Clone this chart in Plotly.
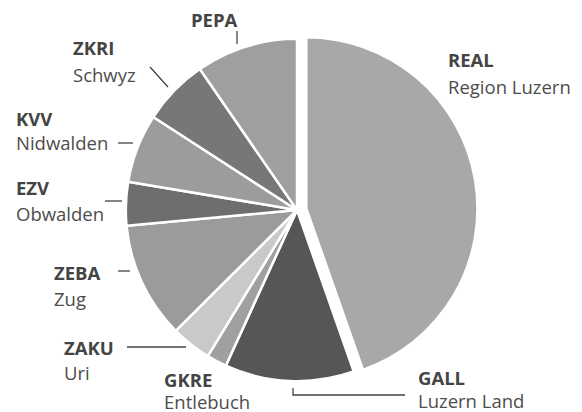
import plotly.graph_objects as go

codes = ["REAL", "GALL", "GKRE", "ZAKU", "ZEBA", "EZV", "KVV", "ZKRI", "PEPA"]
names = ["Region Luzern", "Luzern Land", "Entlebuch", "Uri", "Zug", "Obwalden", "Nidwalden", "Schwyz", ""]
shares = [44.6, 12.2, 1.9, 3.8, 11.0, 4.1, 6.5, 6.25, 9.6]
colors = ["#a8a8a8", "#565656", "#a0a0a0", "#c9c9c9", "#9b9b9b", "#6e6e6e", "#9c9c9c", "#777777", "#9f9f9f"]
pulls = [0.055, 0, 0, 0, 0, 0, 0, 0, 0]

W, H = 582, 412
def px(x):
    return x / W
def py(y):
    return 1 - y / H

cx, cy, r0 = 297, 210, 180.6

fig = go.Figure(go.Pie(
    labels=codes, values=shares, sort=False, direction="clockwise", rotation=0,
    marker=dict(colors=colors, line=dict(color="white", width=2.5)),
    pull=pulls, textinfo="none", hoverinfo="label+percent", showlegend=False,
    domain=dict(x=[px(cx - r0), px(cx + r0)], y=[py(cy + r0), py(cy - r0)]),
))

# label layout: (x_left, y_bold_center, y_name_center)
label_pos = {
    "PEPA": (190, 20, None),
    "ZKRI": (72, 47, 74),
    "KVV": (15, 118, 143),
    "EZV": (15, 187, 213),
    "ZEBA": (53, 272, 298),
    "ZAKU": (63, 347, 372),
    "GKRE": (163, 379, 401),
    "GALL": (417, 377, 400),
    "REAL": (447, 60, 86),
}
name_of = dict(zip(codes, names))
FS = 18.5
ann = []
for code in codes:
    x, yb, yn = label_pos[code]
    ann.append(dict(x=px(x), y=py(yb), xref="paper", yref="paper", xanchor="left", yanchor="middle",
                    text="<b>" + code + "</b>", showarrow=False, borderpad=0,
                    font=dict(family="Open Sans", size=FS, color="#444444")))
    if yn is not None and name_of[code]:
        ann.append(dict(x=px(x), y=py(yn), xref="paper", yref="paper", xanchor="left", yanchor="middle",
                        text=name_of[code], showarrow=False, borderpad=0,
                        font=dict(family="Open Sans", size=FS, color="#4d4d4d")))

leaders = [
    [(237, 31), (237, 44)],
    [(150, 67), (168, 87)],
    [(118, 143), (133, 143)],
    [(105, 201), (122, 201)],
    [(118, 271), (130, 271)],
    [(127, 347), (186, 347)],
    [(293, 388), (293, 395), (405, 395)],
]
shapes = []
for pts in leaders:
    path = "M " + " L ".join(f"{px(x)},{py(y)}" for x, y in pts)
    shapes.append(dict(type="path", path=path, xref="paper", yref="paper",
                       line=dict(color="#444444", width=1.3)))

fig.update_layout(width=W, height=H, margin=dict(l=0, r=0, t=0, b=0),
                  paper_bgcolor="white", plot_bgcolor="white",
                  annotations=ann, shapes=shapes)
fig.write_html("out.html", config={"displayModeBar": False},
               post_script="document.body.style.margin='0';document.body.style.overflow='hidden';")
